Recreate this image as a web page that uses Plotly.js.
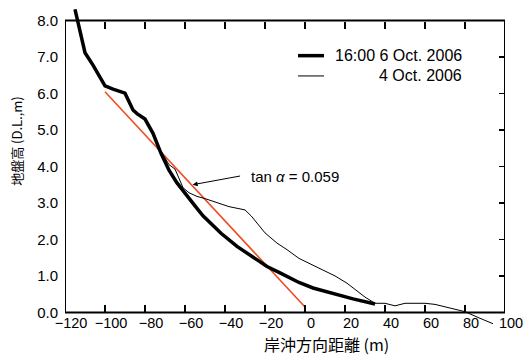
<!DOCTYPE html>
<html>
<head>
<meta charset="utf-8">
<script src="https://cdn.plot.ly/plotly-3.0.1.min.js"></script>
<style>html,body{margin:0;padding:0;background:#fff;}#chart{width:530px;height:356px;}</style>
</head>
<body>
<div id="chart"></div>
<script>
// 16:00 6 Oct. 2006 profile
const oct6X = [-115, -110, -106, -100, -96, -90, -86, -84, -80, -76, -72, -68, -64, -59, -55, -51, -46, -42, -34, -25, -19, -12, -3, 4, 14, 24, 35];
const oct6Y = [8.31, 7.12, 6.78, 6.21, 6.12, 6.01, 5.55, 5.45, 5.30, 4.91, 4.36, 3.90, 3.55, 3.18, 2.92, 2.65, 2.38, 2.17, 1.81, 1.49, 1.26, 1.07, 0.82, 0.67, 0.51, 0.37, 0.23];
// 4 Oct. 2006 profile
const oct4X = [-115, -110, -106, -100, -96, -90, -86, -84, -80, -76, -72, -68, -65, -63, -61, -58, -54, -50, -46, -38, -30, -27, -24, -20, -17, -14, -9, -3, 3, 9, 15, 21, 25, 30, 35, 40, 45, 50, 55, 60, 65, 70, 75, 80, 87, 94];
const oct4Y = [8.31, 7.12, 6.78, 6.21, 6.12, 6.01, 5.55, 5.45, 5.30, 4.93, 4.42, 4.05, 3.93, 3.68, 3.42, 3.28, 3.18, 3.12, 3.05, 2.90, 2.81, 2.65, 2.45, 2.18, 2.04, 1.90, 1.72, 1.48, 1.32, 1.17, 1.00, 0.80, 0.62, 0.42, 0.25, 0.25, 0.18, 0.25, 0.25, 0.25, 0.22, 0.16, 0.10, 0.02, -0.15, -0.31];
// mean slope line (tan α = 0.059)
const slopeX = [-100, 0];
const slopeY = [6.05, 0.15];
// axis ticks
const xTickVals = [-120, -100, -80, -60, -40, -20, 0, 20, 40, 60, 80, 100];
const xInnerTicks = [-100, -80, -60, -40, -20, 0, 20, 40, 60, 80];
const yTickVals = [0, 1, 2, 3, 4, 5, 6, 7, 8];
const yInnerTicks = [1, 2, 3, 4, 5, 6, 7];
const seriesNames = ['16:00 6 Oct. 2006', '4 Oct. 2006'];

const FONT = 'Liberation Sans, Arial, Noto Sans CJK JP, sans-serif';
const CJK = 'Noto Sans CJK JP, Liberation Sans, sans-serif';
const xRange = [-120, 100];
const yRange = [-0.4, 8.4];
const posY0 = (0 - yRange[0]) / (yRange[1] - yRange[0]);
const posY8 = (8 - yRange[0]) / (yRange[1] - yRange[0]);

const traces = [
  {x: slopeX, y: slopeY, mode: 'lines', line: {color: '#ee4d24', width: 1.6}, showlegend: false, hoverinfo: 'skip'},
  {x: oct4X, y: oct4Y, mode: 'lines', name: seriesNames[1], line: {color: '#000', width: 1}, showlegend: false},
  {x: oct6X, y: oct6Y, mode: 'lines', name: seriesNames[0], line: {color: '#000', width: 3.5}, showlegend: false},
  {x: [null], y: [null], xaxis: 'x2', yaxis: 'y2', mode: 'lines', showlegend: false, hoverinfo: 'skip'}
];

const layout = {
  width: 530, height: 356,
  margin: {l: 65, r: 25, t: 6, b: 28.8},
  paper_bgcolor: '#fff', plot_bgcolor: '#fff',
  font: {family: FONT, size: 15, color: '#000'},
  showlegend: false,
  xaxis: {
    range: xRange, anchor: 'free', position: posY0,
    tickvals: xTickVals, ticks: 'inside', ticklen: 7, tickwidth: 1.5, tickcolor: '#000',
    showline: false, showgrid: false, zeroline: false,
    tickfont: {family: FONT, size: 14.5}, ticklabelshift: 6
  },
  xaxis2: {
    range: xRange, overlaying: 'x', side: 'top', anchor: 'free', position: posY8,
    tickvals: xInnerTicks, ticks: 'inside', ticklen: 7, tickwidth: 1.5, tickcolor: '#000',
    showticklabels: false, showline: false, showgrid: false, zeroline: false
  },
  yaxis: {
    range: yRange, anchor: 'x',
    tickvals: yTickVals, tickformat: '.1f', ticks: '', ticklabelstandoff: 6,
    showline: false, showgrid: false, zeroline: false,
    tickfont: {family: FONT, size: 15}
  },
  yaxis2: {
    range: yRange, overlaying: 'y', side: 'right', anchor: 'x',
    tickvals: yInnerTicks, ticks: 'inside', ticklen: 6, tickwidth: 1.5, tickcolor: '#000',
    showticklabels: false, showline: false, showgrid: false, zeroline: false
  },
  shapes: [
    {type: 'rect', xref: 'x', yref: 'y', x0: xRange[0], x1: xRange[1], y0: 0, y1: 8, line: {color: '#000', width: 2}},
    {type: 'line', xref: 'paper', yref: 'paper', x0: 0.5295, x1: 0.5886, y0: 0.8453, y1: 0.8453, line: {color: '#000', width: 3.5}},
    {type: 'line', xref: 'paper', yref: 'paper', x0: 0.5295, x1: 0.5886, y0: 0.7821, y1: 0.7821, line: {color: '#000', width: 1}}
  ],
  annotations: [
    {xref: 'paper', yref: 'paper', x: 0.906, y: 0.8453, xanchor: 'right', yanchor: 'middle', text: seriesNames[0], showarrow: false, font: {family: FONT, size: 16}},
    {xref: 'paper', yref: 'paper', x: 0.906, y: 0.7821, xanchor: 'right', yanchor: 'middle', text: seriesNames[1], showarrow: false, font: {family: FONT, size: 16}},
    {xref: 'x', yref: 'y', x: -56.2, y: 3.5, text: '', showarrow: true, arrowhead: 2, arrowsize: 1, arrowwidth: 1, arrowcolor: '#000', ax: 49, ay: -9},
    {xref: 'x', yref: 'y', x: -28, y: 3.72, xanchor: 'left', yanchor: 'middle', text: 'tan <i>α</i> = 0.059', showarrow: false, font: {family: FONT, size: 15}},
    {xref: 'paper', yref: 'paper', x: 0.5948, y: -0.052, xanchor: 'center', yanchor: 'middle', text: '岸沖方向距離 (m)', showarrow: false, font: {family: CJK, size: 16}},
    {xref: 'paper', yref: 'paper', x: -0.109, y: 0.58, xanchor: 'center', yanchor: 'middle', textangle: -90, text: '地盤高 (D.L.,m)', showarrow: false, font: {family: CJK, size: 13}}
  ]
};

Plotly.newPlot('chart', traces, layout, {displayModeBar: false, staticPlot: true});
</script>
</body>
</html>
